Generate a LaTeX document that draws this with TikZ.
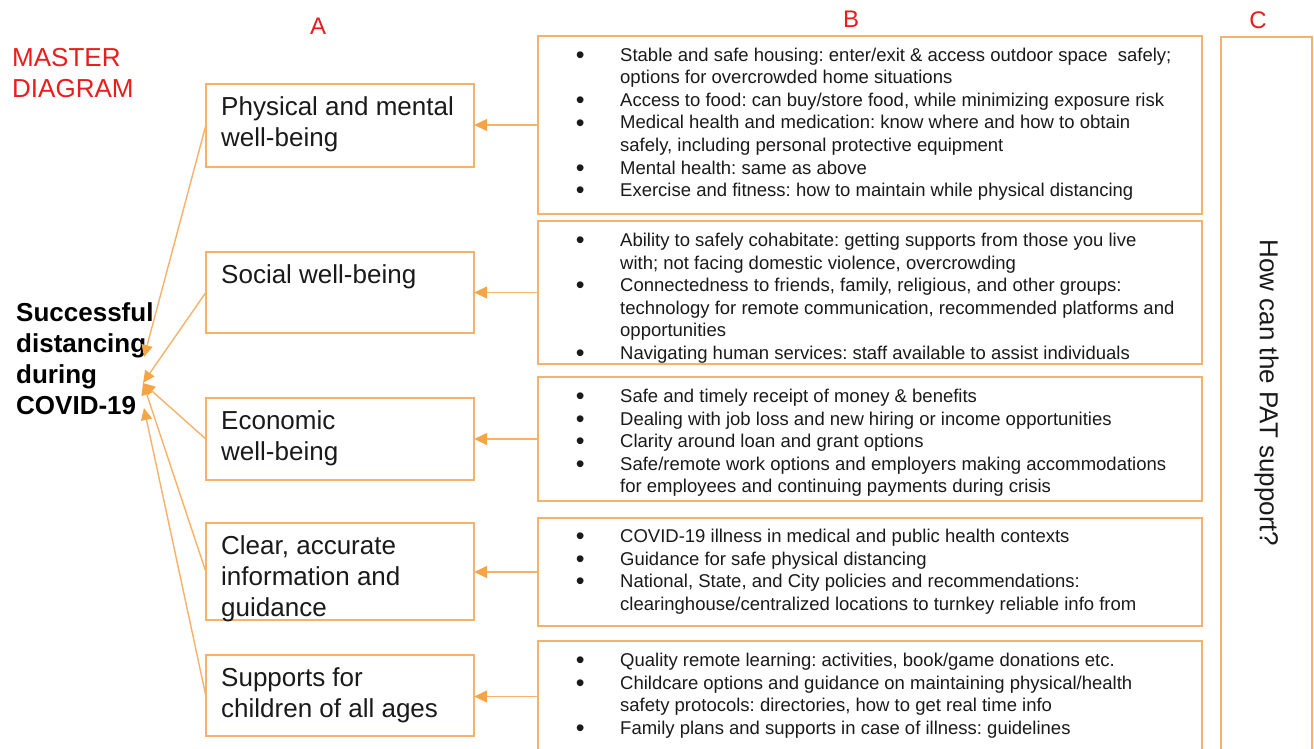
\documentclass[tikz,border=0pt]{standalone}
\usepackage{fontspec}
\setmainfont{Liberation Sans}
\usetikzlibrary{arrows.meta}
\definecolor{boxor}{HTML}{F6B26B}
\definecolor{arror}{HTML}{F6A544}
\definecolor{txt}{HTML}{1A1A1A}
\definecolor{lab}{HTML}{EA1C1C}
\newcommand\bul{\makebox[10pt]{\raisebox{-2.2pt}{\fontsize{25}{25}\selectfont\textbullet}}}
\frenchspacing
\begin{document}
\begin{tikzpicture}[x=1pt,y=-1pt,
  abox/.style={draw=boxor, line width=1.5pt},
  atext/.style={anchor=base west, inner sep=0, font=\fontsize{26}{31}\selectfont, text=txt},
  btext/.style={anchor=base west, inner sep=0, font=\fontsize{18.5}{22.6}\selectfont\frenchspacing, text=txt},
  labtext/.style={inner sep=0, font=\fontsize{24}{28}\selectfont, text=lab},
  conn/.style={draw=boxor, line width=1.5pt, -{Triangle[length=13pt,width=12pt,color=arror,fill=arror]}},
  link/.style={draw=boxor, line width=1.4pt, -{Triangle[length=12pt,width=11pt,color=arror,fill=arror]}}]
\useasboundingbox (0,0) rectangle (1314,748);
\fill[white] (0,0) rectangle (1314,748);

% labels
\node[labtext, anchor=base west, font=\fontsize{26}{31}\selectfont] (master) at (12,66) {\begin{tabular}[t]{@{}l@{}}MASTER\\DIAGRAM\end{tabular}};
\node[labtext, anchor=base] (labA) at (318,34) {A};
\node[labtext, anchor=base] (labB) at (851,27) {B};
\node[labtext, anchor=base] (labC) at (1258,28) {C};

% title
\node[anchor=base west, inner sep=0, font=\fontsize{26}{31}\selectfont\bfseries, text=black] (title) at (16,321)
  {\begin{tabular}[t]{@{}l@{}}Successful\\distancing\\during\\COVID-19\end{tabular}};

% A boxes
\draw[abox] (206,84) rectangle (474,167);
\node[inner sep=0, minimum width=268pt, minimum height=83pt] (A1) at (340,125.5) {};
\draw[abox] (206,252) rectangle (474,333);
\node[inner sep=0, minimum width=268pt, minimum height=81pt] (A2) at (340,292.5) {};
\draw[abox] (206,398) rectangle (474,480);
\node[inner sep=0, minimum width=268pt, minimum height=82pt] (A3) at (340,439) {};
\draw[abox] (206,523) rectangle (474,620);
\node[inner sep=0, minimum width=268pt, minimum height=97pt] (A4) at (340,571.5) {};
\draw[abox] (206,655) rectangle (474,736);
\node[inner sep=0, minimum width=268pt, minimum height=81pt] (A5) at (340,695.5) {};

\node[atext] (A1t) at (221,115) {\begin{tabular}[t]{@{}l@{}}Physical and mental\\well-being\end{tabular}};
\node[atext] (A2t) at (221,283) {Social well-being};
\node[atext] (A3t) at (221,429) {\begin{tabular}[t]{@{}l@{}}Economic\\well-being\end{tabular}};
\node[atext] (A4t) at (221,554) {\begin{tabular}[t]{@{}l@{}}Clear, accurate\\information and\\guidance\end{tabular}};
\node[atext] (A5t) at (221,686) {\begin{tabular}[t]{@{}l@{}}Supports for\\children of all ages\end{tabular}};

% B boxes
\draw[abox] (538,36) rectangle (1202,214);
\node[inner sep=0, minimum width=664pt, minimum height=178pt] (B1) at (870,125) {};
\draw[abox] (538,221) rectangle (1202,364);
\node[inner sep=0, minimum width=664pt, minimum height=143pt] (B2) at (870,292.5) {};
\draw[abox] (538,377) rectangle (1202,501);
\node[inner sep=0, minimum width=664pt, minimum height=124pt] (B3) at (870,439) {};
\draw[abox] (538,518) rectangle (1202,626);
\node[inner sep=0, minimum width=664pt, minimum height=108pt] (B4) at (870,572) {};
\draw[abox] (538,641) rectangle (1202,752);
\node[inner sep=0, minimum width=664pt, minimum height=111pt] (B5) at (870,696.5) {};

\node[btext] (B1t) at (575,61) {\begin{tabular}[t]{@{}l@{\hspace{35pt}}l@{}}
\bul & Stable and safe housing: enter/exit \& access outdoor space\ \ safely;\\
 & options for overcrowded home situations\\
\bul & Access to food: can buy/store food, while minimizing exposure risk\\
\bul & Medical health and medication: know where and how to obtain\\
 & safely, including personal protective equipment\\
\bul & Mental health: same as above\\
\bul & Exercise and fitness: how to maintain while physical distancing
\end{tabular}};
\node[btext] (B2t) at (575,246.5) {\begin{tabular}[t]{@{}l@{\hspace{35pt}}l@{}}
\bul & Ability to safely cohabitate: getting supports from those you live\\
 & with; not facing domestic violence, overcrowding\\
\bul & Connectedness to friends, family, religious, and other groups:\\
 & technology for remote communication, recommended platforms and\\
 & opportunities\\
\bul & Navigating human services: staff available to assist individuals
\end{tabular}};
\node[btext] (B3t) at (575,402.5) {\begin{tabular}[t]{@{}l@{\hspace{35pt}}l@{}}
\bul & Safe and timely receipt of money \& benefits\\
\bul & Dealing with job loss and new hiring or income opportunities\\
\bul & Clarity around loan and grant options\\
\bul & Safe/remote work options and employers making accommodations\\
 & for employees and continuing payments during crisis
\end{tabular}};
\node[btext] (B4t) at (575,542.5) {\begin{tabular}[t]{@{}l@{\hspace{35pt}}l@{}}
\bul & COVID-19 illness in medical and public health contexts\\
\bul & Guidance for safe physical distancing\\
\bul & National, State, and City policies and recommendations:\\
 & clearinghouse/centralized locations to turnkey reliable info from
\end{tabular}};
\node[btext] (B5t) at (575,666.5) {\begin{tabular}[t]{@{}l@{\hspace{35pt}}l@{}}
\bul & Quality remote learning: activities, book/game donations etc.\\
\bul & Childcare options and guidance on maintaining physical/health\\
 & safety protocols: directories, how to get real time info\\
\bul & Family plans and supports in case of illness: guidelines
\end{tabular}};

% C box
\draw[abox, fill=white] (1221,37) rectangle (1312,752);
\node[inner sep=0, minimum width=91pt, minimum height=715pt] (C) at (1266.5,394.5) {};
\node[inner sep=0, rotate=-90, font=\fontsize{26}{31}\selectfont, text=txt] (Ct) at (1266.5,393) {How can the PAT support?};

% connectors B -> A
\foreach \i in {1,...,5} {
  \draw[conn] (B\i.west) -- (B\i.west -| A\i.east);
}

% connectors A -> title
\coordinate (t1) at (144,357);
\coordinate (t2) at (143,383);
\coordinate (t3) at (144,408);
\draw[link] (A1.west) -- (t1);
\draw[link] (A2.west) -- (t2);
\draw[link] (A3.west) -- (t2);
\draw[link] (A4.west) -- (t2);
\draw[link] (A5.west) -- (t3);
\end{tikzpicture}
\end{document}
